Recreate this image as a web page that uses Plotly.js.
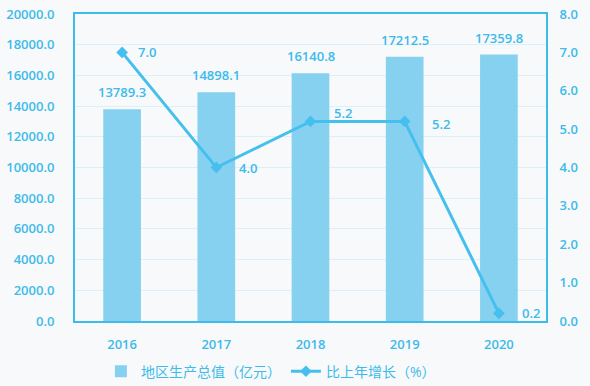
<!DOCTYPE html>
<html><head><meta charset="utf-8">
<script src="https://cdn.plot.ly/plotly-3.0.1.min.js"></script>
<style>html,body{margin:0;padding:0;background:#f8f9fa}</style>
</head><body><div id="c" style="width:590px;height:386px"></div>
<script>
const years = ['2016','2017','2018','2019','2020'];
const gdp = [13789.3, 14898.1, 16140.8, 17212.5, 17359.8];
const growth = [7.0, 4.0, 5.2, 5.2, 0.2];
const gdpName = '地区生产总值（亿元）';
const growthName = '比上年增长（%）';
const leftTicks = [0,2000,4000,6000,8000,10000,12000,14000,16000,18000,20000];
const rightTicks = [0,1,2,3,4,5,6,7,8];

const blue = '#3dbbea';
const font = {family: 'Open Sans, Noto Sans CJK SC, sans-serif', size: 13, color: blue, weight: 600};
const labelShift = [[25,0],[32,0],[32,8],[36,-3],[32,0]];

const traces = [
  {type:'bar', x: years, y: gdp, name: gdpName, marker:{color:'#86d0f0'}, hoverinfo:'none'},
  {type:'scatter', mode:'lines+markers', x: years, y: growth, yaxis:'y2', name: growthName,
   line:{color:'#45c0ee', width:3}, marker:{symbol:'diamond', size:9, color:'#45c0ee'},
   cliponaxis:false, hoverinfo:'none'}
];
const annotations = years.map((yr,i)=>({
  x: yr, y: growth[i], xref:'x', yref:'y2', text: growth[i].toFixed(1), showarrow:false,
  xshift: labelShift[i][0], yshift: labelShift[i][1], font:font
})).concat(years.map((yr,i)=>({
  x: yr, y: gdp[i], xref:'x', yref:'y', text: gdp[i].toFixed(1), showarrow:false,
  yanchor:'bottom', yshift: 6, font:font
})));
const layout = {
  width:590, height:386,
  paper_bgcolor:'#f8f9fa', plot_bgcolor:'#f8f9fa',
  margin:{l:75, r:44, t:14, b:65, autoexpand:false},
  font: font,
  bargap: 0.6,
  showlegend:true,
  annotations: annotations,
  legend:{orientation:'h', x:0.055, xanchor:'left', y:-0.165, yanchor:'middle', font:{...font, size:14, weight:400}},
  xaxis:{showline:true, linecolor:blue, linewidth:2, mirror:true, ticks:'', ticklabelstandoff:10, tickfont:font, showgrid:false},
  yaxis:{range:[0,20000], tickvals:leftTicks, ticktext:leftTicks.map(v=>v.toFixed(1)), showline:true, linecolor:blue, linewidth:2,
         gridcolor:'#dcf0f9', gridwidth:1, zeroline:false, ticks:'', ticklabelstandoff:16, tickfont:font},
  yaxis2:{range:[0,8], tickvals:rightTicks, ticktext:rightTicks.map(v=>v.toFixed(1)), overlaying:'y', side:'right',
          showline:true, linecolor:blue, linewidth:2, showgrid:false, zeroline:false, ticks:'', ticklabelstandoff:9, tickfont:font}
};
Plotly.newPlot('c', traces, layout, {displayModeBar:false, staticPlot:true});
</script></body></html>
